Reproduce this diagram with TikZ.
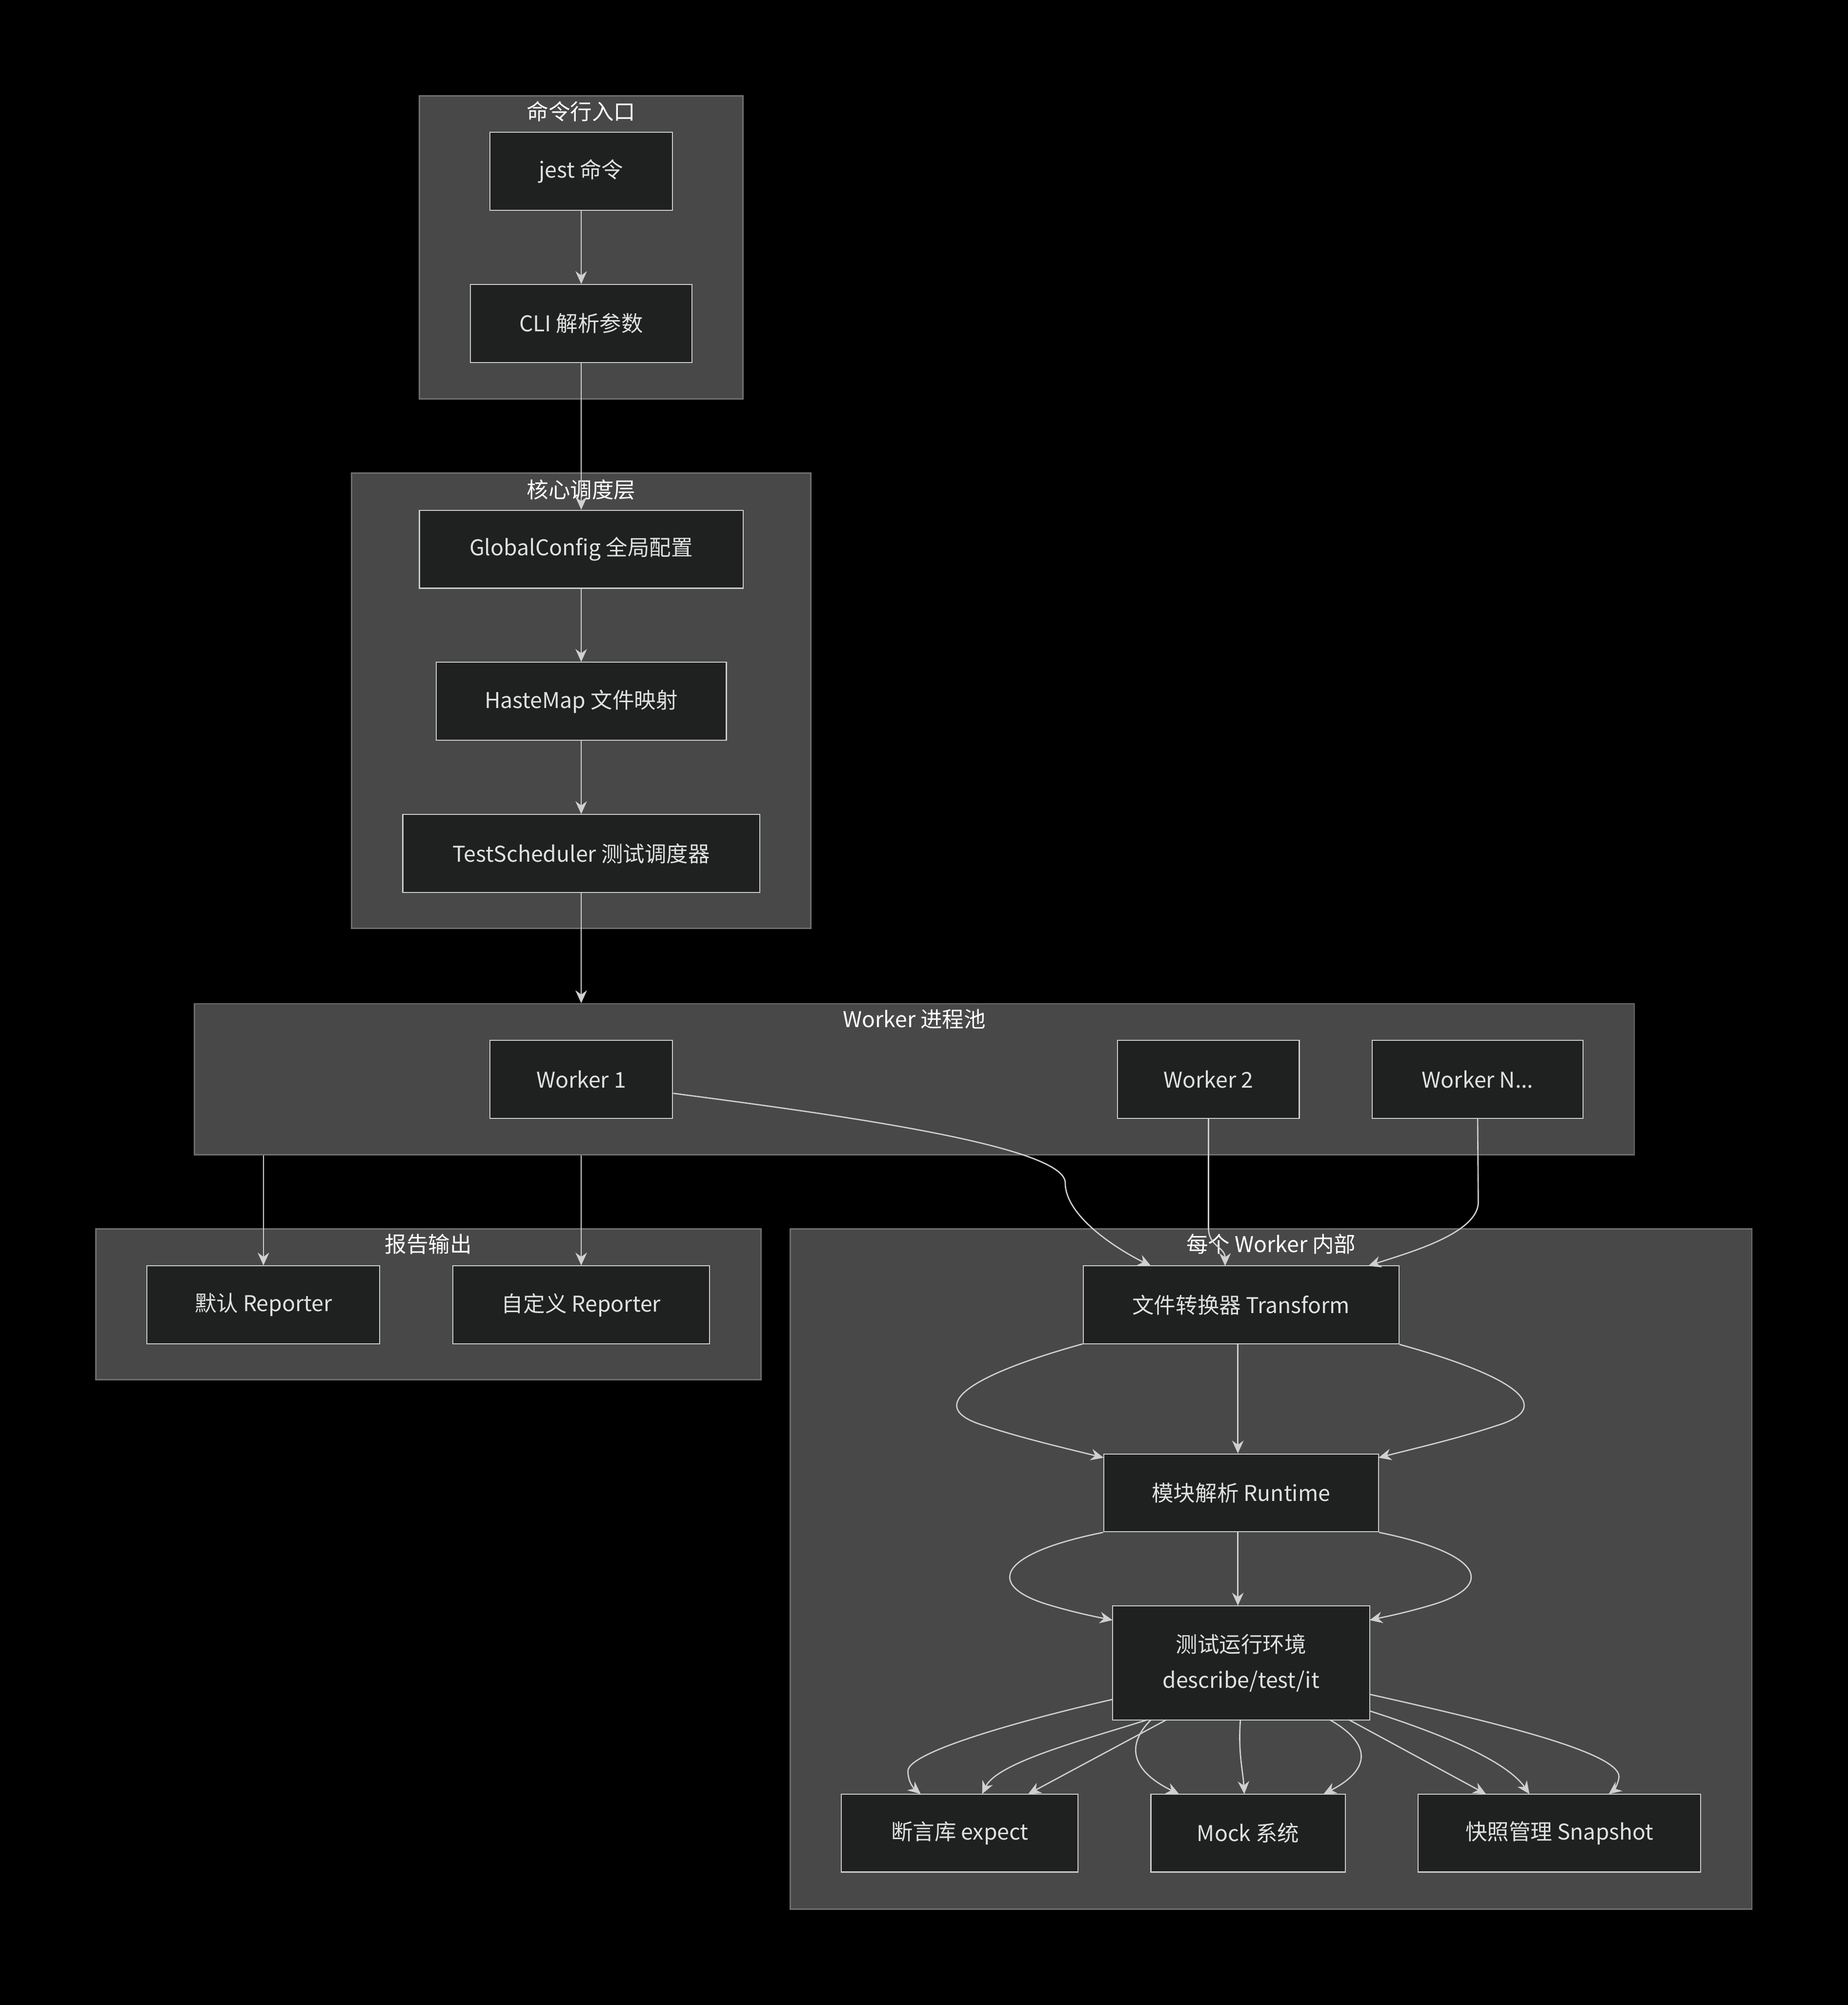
\documentclass[tikz,border=0pt]{standalone}
\usepackage{fontspec}
\setmainfont{Noto Sans CJK SC}
\usetikzlibrary{arrows.meta}
\definecolor{clfill}{HTML}{474847}
\definecolor{clline}{HTML}{6E6E6E}
\definecolor{bxfill}{HTML}{1F2020}
\definecolor{bxline}{HTML}{CCCCCC}
\definecolor{txt}{HTML}{E0E0E0}
\definecolor{edge}{HTML}{D0D0D0}
\begin{document}
\begin{tikzpicture}[x=0.5pt,y=-0.5pt,
 cluster/.style={draw=clline,fill=clfill,line width=0.5pt,inner sep=0pt},
 ctitle/.style={text=white,font=\fontsize{8.5}{10}\selectfont},
 box/.style={draw=bxline,fill=bxfill,line width=0.4pt,text=txt,minimum height=30.5pt,inner sep=0pt,align=center,font=\fontsize{8.5}{14}\selectfont},
 e/.style={draw=edge,line width=0.5pt,-{Stealth[length=5pt,width=4.5pt]}}]
\fill[black] (0,0) rectangle (1445,1568);
\useasboundingbox (0,0) rectangle (1445,1568);
% clusters
\node[cluster,minimum width=126.5pt,minimum height=118.5pt] (c1) at (454.5,193.5) {};
\node[ctitle] at (454.5,87) {命令行入口};
\node[cluster,minimum width=179.5pt,minimum height=178pt] (c2) at (454.5,548) {};
\node[ctitle] at (454.5,383) {核心调度层};
\node[cluster,minimum width=563pt,minimum height=59pt] (c3) at (715,844) {};
\node[ctitle] at (715,797) {Worker 进程池};
\node[cluster,minimum width=260pt,minimum height=59pt] (c4) at (335,1020) {};
\node[ctitle] at (335,973) {报告输出};
\node[cluster,minimum width=376pt,minimum height=266pt] (c5) at (994,1227) {};
\node[ctitle] at (994,973) {每个 Worker 内部};
% nodes
\node[box,minimum width=71.5pt] (jest) at (454.5,134) {jest 命令};
\node[box,minimum width=86.5pt] (cli) at (454.5,253) {CLI 解析参数};
\node[box,minimum width=126.5pt] (gc) at (454.5,429.5) {GlobalConfig 全局配置};
\node[box,minimum width=113.5pt] (hm) at (454.5,548.5) {HasteMap 文件映射};
\node[box,minimum width=139.5pt] (ts) at (454.5,667.5) {TestScheduler 测试调度器};
\node[box,minimum width=71.5pt] (w1) at (454.5,844) {Worker 1};
\node[box,minimum width=71pt] (w2) at (945,844) {Worker 2};
\node[box,minimum width=82.5pt] (wn) at (1155.5,844) {Worker N...};
\node[box,minimum width=91pt] (r1) at (206,1020.5) {默认 Reporter};
\node[box,minimum width=100.5pt] (r2) at (454.5,1020.5) {自定义 Reporter};
\node[box,minimum width=123.5pt] (tf) at (970.5,1020.5) {文件转换器 Transform};
\node[box,minimum width=107.5pt] (rt) at (970.5,1167.5) {模块解析 Runtime};
\node[box,minimum width=100.5pt,minimum height=44.5pt] (env) at (970.5,1300.5) {测试运行环境\\describe/test/it};
\node[box,minimum width=92.5pt] (ex) at (750.5,1433.5) {断言库 expect};
\node[box,minimum width=76pt] (mk) at (976,1433.5) {Mock 系统};
\node[box,minimum width=110.5pt] (sn) at (1219.5,1433.5) {快照管理 Snapshot};
% edges
\draw[e] (jest) -- (cli);
\draw[e] (cli) -- (gc);
\draw[e] (gc) -- (hm);
\draw[e] (hm) -- (ts);
\draw[e] (ts) -- (c3.north -| ts);
\draw[e] (c3.south -| r1) -- (r1);
\draw[e] (c3.south -| r2) -- (r2);
\draw[e] (w1.east |- 0,855) .. controls (640,870) and (833,895) .. (833,925) .. controls (833,950) and (870,975) .. (900,990);
\draw[e] (w2.south) -- (945,960) .. controls (945,975) and (958,975) .. (958,990);
\draw[e] (wn.south) -- (1156,940) .. controls (1156,965) and (1100,980) .. (1070,990);
\draw[e] (tf.south -| 968,0) -- (rt.north -| 968,0);
\draw[e] (tf.south west |- 0,1051) ++(0,0) .. controls (760,1075) and (720,1100) .. (770,1115) .. controls (800,1125) and (835,1133) .. (863,1140);
\draw[e] (tf.south east) .. controls (1180,1075) and (1220,1100) .. (1170,1115) .. controls (1140,1125) and (1105,1133) .. (1078,1140);
\draw[e] (rt.south -| 968,0) -- (env.north -| 968,0);
\draw[e] (rt.south west) .. controls (780,1215) and (770,1240) .. (820,1255) .. controls (840,1261) and (855,1264) .. (870,1267);
\draw[e] (rt.south east) .. controls (1160,1215) and (1170,1240) .. (1120,1255) .. controls (1100,1261) and (1085,1264) .. (1071,1267);
\draw[e] (870,1329) .. controls (800,1345) and (710,1370) .. (710,1385) .. controls (710,1393) and (714,1398) .. (720,1403);
\draw[e] (897,1345) .. controls (850,1360) and (780,1378) .. (768,1403);
\draw[e] (912,1345) -- (804,1403);
\draw[e] (900,1345) .. controls (880,1365) and (885,1385) .. (922,1403);
\draw[e] (970,1345) .. controls (968,1370) and (972,1385) .. (973,1403);
\draw[e] (1040,1345) .. controls (1075,1365) and (1070,1385) .. (1035,1403);
\draw[e] (1055,1345) -- (1162,1403);
\draw[e] (1071,1338) .. controls (1140,1360) and (1180,1380) .. (1196,1403);
\draw[e] (1071,1325) .. controls (1160,1345) and (1268,1370) .. (1266,1390) .. controls (1265,1396) and (1262,1400) .. (1258,1403);
\end{tikzpicture}
\end{document}
